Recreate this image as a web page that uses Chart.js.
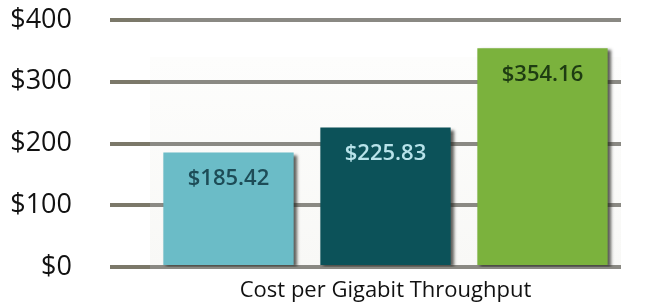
<!DOCTYPE html>
<html>
<head>
<meta charset="utf-8">
<script src="https://cdn.jsdelivr.net/npm/chart.js@4"></script>
<style>
html,body{margin:0;padding:0;background:#ffffff;}
#wrap{width:653px;height:307px;position:relative;}
</style>
</head>
<body>
<div id="wrap"><canvas id="c" width="653" height="307"></canvas></div>
<script>
const categories = ['Cost per Gigabit Throughput'];
const seriesNames = ['Option A', 'Option B', 'Option C'];
const seriesValues = [[185.42], [225.83], [354.16]];
const valueLabels = ['$185.42', '$225.83', '$354.16'];
const tickValues = [0, 100, 200, 300, 400];

const barColors = ['#6bbcc7', '#0c5259', '#7bb23d'];
const labelColors = ['#1d4c57', '#b8e3ea', '#1e3c12'];

const panelPlugin = {
  id: 'panel',
  beforeDraw(chart) {
    const {ctx, chartArea, scales} = chart;
    const top = scales.y.getPixelForValue(340);
    const g = ctx.createLinearGradient(0, top, 0, chartArea.bottom);
    g.addColorStop(0, '#fdfdfc');
    g.addColorStop(1, '#f8f8f6');
    ctx.save();
    ctx.fillStyle = g;
    ctx.fillRect(chartArea.left, top, chartArea.right - chartArea.left, chartArea.bottom - top);
    ctx.restore();
  }
};

const shadowPlugin = {
  id: 'barShadow',
  beforeDatasetDraw(chart) {
    const ctx = chart.ctx;
    ctx.save();
    ctx.shadowColor = 'rgba(40,40,35,0.75)';
    ctx.shadowBlur = 3;
    ctx.shadowOffsetX = 3;
    ctx.shadowOffsetY = 2;
  },
  afterDatasetDraw(chart) {
    chart.ctx.restore();
  }
};

const labelPlugin = {
  id: 'valueLabels',
  afterDatasetsDraw(chart) {
    const ctx = chart.ctx;
    ctx.save();
    ctx.font = '600 22px "Open Sans"';
    ctx.textAlign = 'center';
    ctx.textBaseline = 'middle';
    chart.data.datasets.forEach((ds, i) => {
      const el = chart.getDatasetMeta(i).data[0];
      ctx.fillStyle = labelColors[i];
      ctx.fillText(valueLabels[i], el.x, el.y + 26);
    });
    ctx.restore();
  }
};

new Chart(document.getElementById('c'), {
  type: 'bar',
  data: {
    labels: categories,
    datasets: seriesNames.map((n, i) => ({
      label: n,
      data: seriesValues[i],
      backgroundColor: barColors[i],
      borderWidth: 0,
      categoryPercentage: 1.0,
      barPercentage: 0.83
    }))
  },
  options: {
    responsive: false,
    animation: false,
    events: [],
    layout: { padding: { top: 20, right: 32, left: 0, bottom: 0 } },
    plugins: { legend: { display: false }, tooltip: { enabled: false } },
    scales: {
      x: {
        grid: { display: false, drawTicks: false },
        border: { display: false },
        ticks: { color: '#111111', font: { family: 'Open Sans', size: 22 }, padding: 11 },
        afterFit(s) { s.height = 40; s.paddingLeft = 0; s.paddingRight = 0; }
      },
      y: {
        min: 0,
        max: 400,
        afterBuildTicks(s) { s.ticks = tickValues.map(v => ({ value: v })); },
        border: { display: false },
        grid: {
          color: '#8a8983',
          tickColor: '#7b7869',
          lineWidth: 4,
          drawTicks: true,
          tickLength: 40
        },
        ticks: {
          color: '#111111',
          font: { family: 'Open Sans', size: 27 },
          padding: 38,
          callback: v => '$' + v
        },
        afterFit(s) { s.width = 150; s.paddingTop = 0; s.paddingBottom = 0; }
      }
    }
  },
  plugins: [panelPlugin, shadowPlugin, labelPlugin]
});
</script>
</body>
</html>
